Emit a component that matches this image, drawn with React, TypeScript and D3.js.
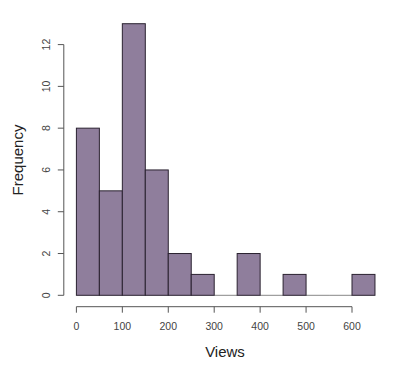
import React, { useRef, useEffect } from 'react';
import * as d3 from 'd3';

// histogram bins, width 50
const binStarts = [0, 50, 100, 150, 200, 250, 300, 350, 400, 450, 500, 550, 600];
const counts = [8, 5, 13, 6, 2, 1, 0, 2, 0, 1, 0, 0, 1];
const xTicks = [0, 100, 200, 300, 400, 500, 600];
const yTicks = [0, 2, 4, 6, 8, 10, 12];

const W = 400;
const H = 371;

const App: React.FC = () => {
  const svgRef = useRef<SVGSVGElement>(null);

  useEffect(() => {
    if (!svgRef.current) return;
    const svg = d3.select(svgRef.current);
    svg.selectAll('*').remove();

    const x = d3.scaleLinear().domain([0, 600]).range([76.4, 352]);
    const y = d3.scaleLinear().domain([0, 12]).range([295.3, 44.6]);
    const font = 'Liberation Sans, Arial, sans-serif';

    // empty bins still get a flat border along the baseline
    svg.append('g')
      .selectAll('line')
      .data(binStarts.filter((_, i) => counts[i] === 0))
      .join('line')
      .attr('x1', (d) => x(d))
      .attr('x2', (d) => x(d + 50))
      .attr('y1', y(0))
      .attr('y2', y(0))
      .attr('stroke', '#888');

    // bars
    svg.append('g')
      .selectAll('rect')
      .data(binStarts.filter((_, i) => counts[i] > 0))
      .join('rect')
      .attr('x', (d) => x(d))
      .attr('y', (d) => y(counts[binStarts.indexOf(d)]))
      .attr('width', (d) => x(d + 50) - x(d))
      .attr('height', (d) => y(0) - y(counts[binStarts.indexOf(d)]))
      .attr('fill', '#8f7e9c')
      .attr('stroke', '#2a2230')
      .attr('stroke-width', 1);

    // y axis
    const ax = 63.8;
    const gy = svg.append('g');
    gy.append('line')
      .attr('x1', ax).attr('x2', ax)
      .attr('y1', y(0)).attr('y2', y(12))
      .attr('stroke', '#555');
    yTicks.forEach((t) => {
      gy.append('line')
        .attr('x1', ax - 6).attr('x2', ax)
        .attr('y1', y(t)).attr('y2', y(t))
        .attr('stroke', '#555');
      gy.append('text')
        .attr('transform', `translate(${ax - 14},${y(t)}) rotate(-90)`)
        .attr('text-anchor', 'middle')
        .attr('font-family', font)
        .attr('font-size', 10.5)
        .attr('fill', '#444')
        .text(String(t));
    });

    // x axis
    const ay = 306.7;
    const gx = svg.append('g');
    gx.append('line')
      .attr('x1', x(0)).attr('x2', x(600))
      .attr('y1', ay).attr('y2', ay)
      .attr('stroke', '#555');
    xTicks.forEach((t) => {
      gx.append('line')
        .attr('x1', x(t)).attr('x2', x(t))
        .attr('y1', ay).attr('y2', ay + 6)
        .attr('stroke', '#555');
      gx.append('text')
        .attr('x', x(t))
        .attr('y', 330)
        .attr('text-anchor', 'middle')
        .attr('font-family', font)
        .attr('font-size', 10.5)
        .attr('fill', '#444')
        .text(String(t));
    });

    // axis titles
    svg.append('text')
      .attr('x', 225)
      .attr('y', 357)
      .attr('text-anchor', 'middle')
      .attr('font-family', font)
      .attr('font-size', 15)
      .attr('fill', '#222')
      .text('Views');

    svg.append('text')
      .attr('transform', `translate(23,160) rotate(-90)`)
      .attr('text-anchor', 'middle')
      .attr('font-family', font)
      .attr('font-size', 15)
      .attr('fill', '#222')
      .text('Frequency');
  }, []);

  return (
    <svg
      ref={svgRef}
      width={W}
      height={H}
      style={{ position: 'absolute', left: 0, top: 0, background: '#fff' }}
    />
  );
};

export default App;
